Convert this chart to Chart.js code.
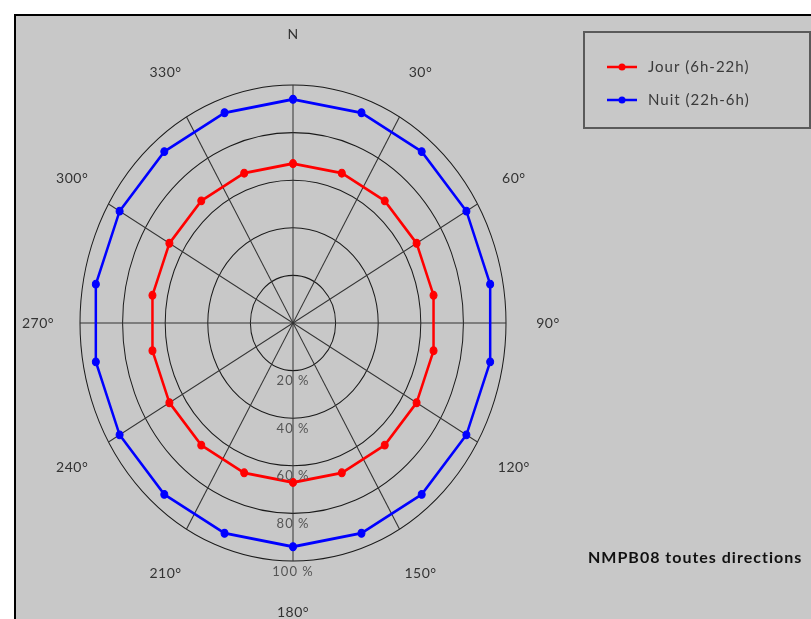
<!DOCTYPE html>
<html><head><meta charset="utf-8">
<script src="https://cdn.jsdelivr.net/npm/chart.js@4.4.1/dist/chart.umd.min.js"></script>
<style>
html,body{margin:0;padding:0;background:#fff;width:811px;height:619px;overflow:hidden;}
#panel{position:absolute;left:14px;top:14px;width:797px;height:605px;background:#c8c8c8;border-left:2px solid #000;border-top:2px solid #000;}
#c{position:absolute;left:0;top:0;}
</style></head><body>
<div id="panel"></div>
<canvas id="c" width="811" height="619"></canvas>
<script>
// Direction categories (every 10°), only multiples of 30° are labelled
const directions = ['N','','','30°','','','60°','','','90°','','','120°','','','150°','','','180°','','','210°','','','240°','','','270°','','','300°','','','330°','',''];
// Series values (%), measured every 20°
const jour = [67,null,67,null,67,null,67,null,67,null,67,null,67,null,67,null,67,null,67,null,67,null,67,null,67,null,67,null,67,null,67,null,67,null,67,null];
const nuit = [94,null,94,null,94,null,94,null,94,null,94,null,94,null,94,null,94,null,94,null,94,null,94,null,94,null,94,null,94,null,94,null,94,null,94,null];
const seriesNames = ['Jour (6h-22h)', 'Nuit (22h-6h)'];
const seriesColors = ['#ff0000', '#0000ff'];
const annotation = 'NMPB08 toutes directions';

const K = 238 / 213;      // vertical stretch of the plot (elliptical look)
const KL = 289 / 255;     // vertical stretch of direction label ring
const FONT = 'Lato, "Open Sans", sans-serif';

const ellipse = {
  id: 'ellipse',
  beforeDraw(chart) {
    const s = chart.scales.r, ctx = chart.ctx;
    ctx.save();
    ctx.translate(0, s.yCenter);
    ctx.scale(1, K);
    ctx.translate(0, -s.yCenter);
  },
  afterDatasetsDraw(chart) { chart.ctx.restore(); }
};

const overlay = {
  id: 'overlay',
  afterDraw(chart) {
    const s = chart.scales.r, ctx = chart.ctx, cx = s.xCenter, cy = s.yCenter;
    ctx.save();
    // direction labels
    ctx.font = '14px ' + FONT;
    ctx.letterSpacing = '0.5px';
    ctx.fillStyle = '#333';
    ctx.textAlign = 'center';
    ctx.textBaseline = 'middle';
    chart.data.labels.forEach((lab, i) => {
      if (!lab) return;
      const p = s.getPointPosition(i, s.drawingArea + 42);
      ctx.fillText(lab, p.x, cy + (p.y - cy) * KL);
    });
    // radial tick labels, below each ring on the 180° axis
    ctx.font = '13px ' + FONT;
    ctx.letterSpacing = '1px';
    ctx.fillStyle = '#555';
    ctx.textBaseline = 'top';
    s.ticks.forEach(t => {
      if (t.value <= 0) return;
      const d = s.getDistanceFromCenterForValue(t.value);
      ctx.fillText(t.label, cx, cy + d * K + 4);
    });
    // legend box
    ctx.strokeStyle = '#5a5a5a';
    ctx.lineWidth = 2;
    ctx.strokeRect(584, 32, 226, 96);
    ctx.font = '15px ' + FONT;
    ctx.letterSpacing = '1px';
    ctx.textAlign = 'left';
    ctx.textBaseline = 'middle';
    chart.data.datasets.forEach((ds, i) => {
      const y = 67 + 33 * i;
      ctx.strokeStyle = ds.borderColor;
      ctx.lineWidth = 2.5;
      ctx.beginPath(); ctx.moveTo(607, y); ctx.lineTo(637, y); ctx.stroke();
      ctx.fillStyle = ds.borderColor;
      ctx.beginPath(); ctx.arc(622, y, 3.5, 0, Math.PI * 2); ctx.fill();
      ctx.fillStyle = '#3a3a3a';
      ctx.fillText(ds.label, 648, y);
    });
    // annotation
    ctx.font = 'bold 16px ' + FONT;
    ctx.letterSpacing = '1px';
    ctx.fillStyle = '#111';
    ctx.fillText(annotation, 588, 558);
    ctx.restore();
  }
};

new Chart(document.getElementById('c'), {
  type: 'radar',
  data: {
    labels: directions,
    datasets: [jour, nuit].map((d, i) => ({
      label: seriesNames[i],
      data: d,
      borderColor: seriesColors[i],
      backgroundColor: seriesColors[i],
      pointBackgroundColor: seriesColors[i],
      pointBorderColor: seriesColors[i],
      borderWidth: 2.5,
      pointRadius: 3.5,
      pointBorderWidth: 1,
      fill: false,
      spanGaps: true,
      clip: false,
      tension: 0
    }))
  },
  options: {
    responsive: false,
    animation: false,
    devicePixelRatio: 1,
    layout: { padding: { left: 80, right: 305, top: 110, bottom: 83 } },
    plugins: { legend: { display: false }, tooltip: { enabled: false } },
    scales: {
      r: {
        min: 0, max: 100,
        ticks: { display: false, stepSize: 20, callback: v => v + ' %' },
        pointLabels: { display: false },
        grid: { color: '#1a1a1a', lineWidth: 1, circular: true },
        angleLines: { color: c => (c.index % 3 === 0 ? '#333' : 'rgba(0,0,0,0)'), lineWidth: 1 }
      }
    }
  },
  plugins: [ellipse, overlay]
});
</script>
</body></html>
